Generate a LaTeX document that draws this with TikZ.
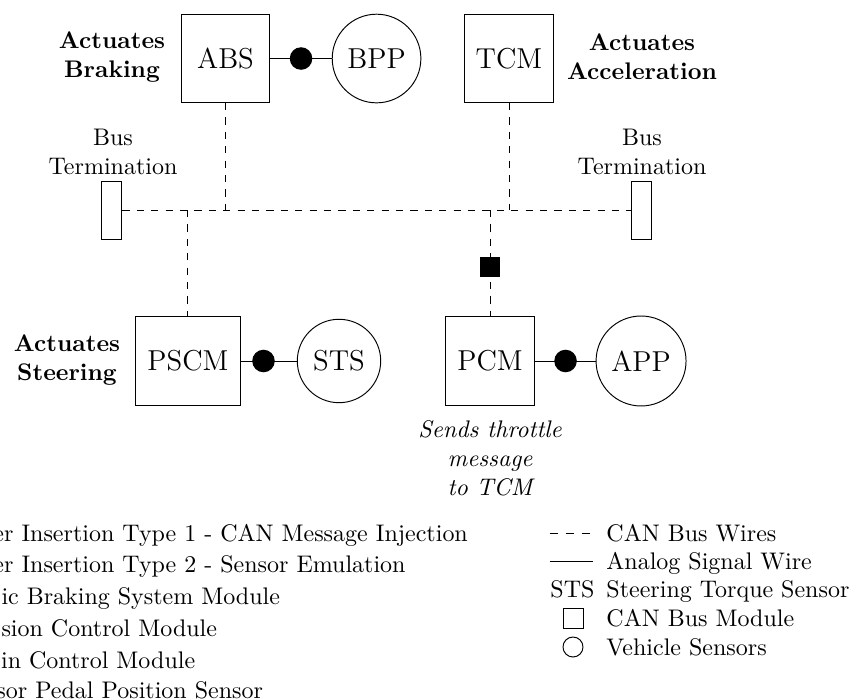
\documentclass[tikz,border=0pt]{standalone}
\usepackage{tikz}
\usetikzlibrary{calc}

\tikzset{
  module/.style={draw, rectangle, minimum size=36.7pt, inner xsep=4.8pt, font=\large},
  sensor/.style={draw, circle, inner sep=4.3pt, font=\large},
  joint/.style={circle, fill=black, inner sep=0pt, minimum size=9.4pt},
  attack/.style={rectangle, fill=black, inner sep=0pt, minimum size=0.293cm},
  termbox/.style={draw, rectangle, inner sep=0pt, minimum width=0.293cm, minimum height=0.849cm},
  busline/.style={dashed},
  note/.style={align=center, inner sep=0pt},
  legtext/.style={anchor=base west, inner sep=0pt}
}

\begin{document}
\begin{tikzpicture}
\useasboundingbox (0,0) rectangle (12.537,-10.252);

\foreach \mod/\sen/\x/\y in {ABS/BPP/3.303/-0.857, PSCM/STS/2.753/-5.287, PCM/APP/7.177/-5.287}{
  \node[module] (\mod) at (\x,\y) {\mod};
  \node[sensor] (\sen) at ({\x+2.212},\y) {\sen};
  \draw (\mod) -- (\sen);
  \node[joint] (j\sen) at ({\x+1.106},\y) {};
}
\node[module] (TCM) at (7.455,-0.857) {TCM};

\node[termbox] (termL) at (1.640,-3.076) {};
\node[termbox] (termR) at (9.393,-3.076) {};
\node[note] (busL) at (1.655,-2.226) {Bus\\Termination};
\node[note] (busR) at (9.403,-2.226) {Bus\\Termination};

\draw[busline] (termL.east) -- (termR.west);
\draw[busline] (ABS.south) -- (ABS |- termL.east);
\draw[busline] (TCM.south) -- (TCM |- termL.east);
\draw[busline] (PSCM |- termL.east) -- (PSCM.north);
\draw[busline] (PCM |- termL.east) -- (PCM.north);
\node[attack] (atk) at (7.177,-3.906) {};

\node[note, font=\bfseries] (brk) at (1.640,-0.835) {Actuates\\Braking};
\node[note, font=\bfseries] (acc) at (9.403,-0.835) {Actuates\\Acceleration};
\node[note, font=\bfseries] (str) at (0.981,-5.273) {Actuates\\Steering};
\node[note, font=\itshape] (thr) at (7.177,-6.708) {Sends throttle\\message\\to TCM};

\node[legtext] (l1) at (-0.103,-7.931) {er Insertion Type 1 - CAN Message Injection};
\node[legtext] (l2) at (-0.103,-8.392) {er Insertion Type 2 - Sensor Emulation};
\node[legtext] (l3) at (0.015,-8.856) {ic Braking System Module};
\node[legtext] (l4) at (0.015,-9.319) {sion Control Module};
\node[legtext] (l5) at (0.009,-9.784) {in Control Module};
\node[legtext] (l6) at (-0.059,-10.223) {sor Pedal Position Sensor};

\coordinate (ka) at (8.055,-7.811);
\coordinate (kb) at (8.641,-7.811);
\coordinate (kc) at (8.055,-8.227);
\coordinate (kd) at (8.685,-8.227);
\draw[dash pattern=on 3.33pt off 3.33pt] (ka) -- (kb);
\draw (kc) -- (kd);
\node[legtext] (r1) at (8.875,-7.931) {CAN Bus Wires};
\node[legtext] (r2) at (8.875,-8.348) {Analog Signal Wire};
\node[legtext] (r3a) at (8.055,-8.758) {STS};
\node[legtext] (r3) at (8.875,-8.758) {Steering Torque Sensor};
\node[draw, rectangle, inner sep=0pt, minimum size=0.293cm] (k4) at (8.392,-9.051) {};
\node[legtext] (r4) at (8.875,-9.176) {CAN Bus Module};
\node[draw, circle, inner sep=0pt, minimum size=0.293cm] (k5) at (8.392,-9.476) {};
\node[legtext] (r5) at (8.875,-9.593) {Vehicle Sensors};
\end{tikzpicture}
\end{document}
